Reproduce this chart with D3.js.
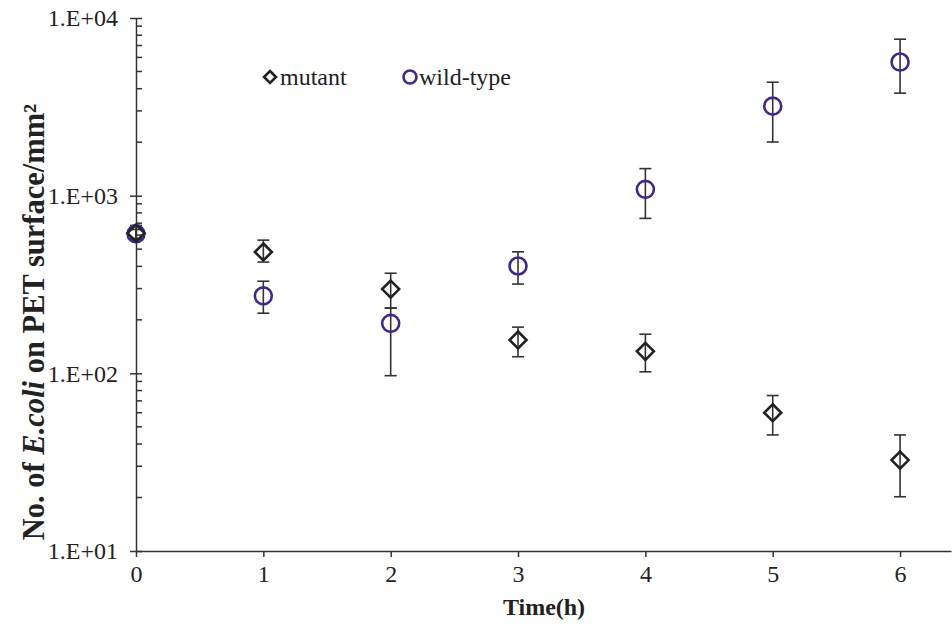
<!DOCTYPE html>
<html><head><meta charset="utf-8">
<script src="https://cdn.jsdelivr.net/npm/d3@7"></script>
<style>html,body{margin:0;padding:0;background:#fff;}svg{display:block;}</style>
</head><body>
<svg id="chart" width="952" height="628"></svg>
<script>
const times = [0, 1, 2, 3, 4, 5, 6];
const mutant = [615, 482, 298, 154, 133, 60, 32.5];
const mutantLow = [565, 423, 233, 124, 102, 45, 20.2];
const mutantHigh = [680, 562, 366, 182, 166, 75, 45];
const wild = [610, 273, 191, 402, 1085, 3190, 5650];
const wildLow = [575, 218, 97, 318, 745, 2005, 3775];
const wildHigh = [645, 330, 233, 483, 1420, 4350, 7600];
const xTicks = [0, 1, 2, 3, 4, 5, 6];
const yTicks = [10, 100, 1000, 10000];
const yTickLabels = ["1.E+01", "1.E+02", "1.E+03", "1.E+04"];
const seriesNames = ["mutant", "wild-type"];

const svg = d3.select("#chart");
const font = "'Liberation Serif','Times New Roman',serif";
const x = d3.scaleLinear().domain([0, 6.4]).range([136, 951]);
const y = d3.scaleLog().domain([10, 10000]).range([551, 18]);
const axisColor = "#333";
const fs = 24;

// minor ticks on y
const minor = [];
for (let d = 10; d < 10000; d *= 10) for (let k = 2; k <= 9; k++) minor.push(d * k);
svg.append("g").selectAll("line").data(minor).join("line")
  .attr("x1", x(0)).attr("x2", x(0) + 6)
  .attr("y1", d => y(d)).attr("y2", d => y(d))
  .attr("stroke", axisColor).attr("stroke-width", 1.5);

// y axis
const yAxis = svg.append("g").attr("transform", `translate(${x(0)},0)`)
  .call(d3.axisLeft(y).tickValues(yTicks).tickFormat((d, i) => yTickLabels[i]).tickSize(6).tickSizeOuter(0).tickPadding(12));
yAxis.select(".domain").attr("stroke", axisColor).attr("stroke-width", 1.5);
yAxis.selectAll(".tick line").attr("stroke", axisColor).attr("stroke-width", 1.5).attr("x2", -6).attr("x1", 6);
yAxis.selectAll("text").attr("font-family", font).attr("font-size", fs).attr("fill", "#222");

// x axis
const xAxis = svg.append("g").attr("transform", `translate(0,${y(10)})`)
  .call(d3.axisBottom(x).tickValues(xTicks).tickFormat(d3.format("d")).tickSize(6).tickSizeOuter(0).tickPadding(8));
xAxis.select(".domain").attr("stroke", axisColor).attr("stroke-width", 1.5);
xAxis.selectAll(".tick line").attr("stroke", axisColor).attr("stroke-width", 1.5);
xAxis.selectAll("text").attr("font-family", font).attr("font-size", fs).attr("fill", "#222");

// axis titles
svg.append("text").attr("x", 544).attr("y", 615)
  .attr("text-anchor", "middle").attr("font-family", font).attr("font-size", fs)
  .attr("font-weight", "bold").attr("fill", "#222").text("Time(h)");
const yt = svg.append("text").attr("transform", "translate(44,322) rotate(-90)")
  .attr("text-anchor", "middle").attr("font-family", font).attr("font-size", 30.5)
  .attr("font-weight", "bold").attr("fill", "#222");
yt.append("tspan").text("No. of ");
yt.append("tspan").attr("font-style", "italic").text("E.coli");
yt.append("tspan").text(" on PET surface/mm²");

// error bars
function errorBars(lo, hi) {
  const g = svg.append("g").attr("stroke", "#333").attr("stroke-width", 1.6);
  times.forEach((t, i) => {
    const cx = x(t);
    g.append("line").attr("x1", cx).attr("x2", cx).attr("y1", y(lo[i])).attr("y2", y(hi[i]));
    g.append("line").attr("x1", cx - 6).attr("x2", cx + 6).attr("y1", y(lo[i])).attr("y2", y(lo[i]));
    g.append("line").attr("x1", cx - 6).attr("x2", cx + 6).attr("y1", y(hi[i])).attr("y2", y(hi[i]));
  });
}
errorBars(mutantLow, mutantHigh);
errorBars(wildLow, wildHigh);

const purple = "#40288f";
const diamond = "M0,-8.5L8.5,0L0,8.5L-8.5,0Z";

// wild-type circles
svg.append("g").selectAll("circle").data(wild).join("circle")
  .attr("cx", (d, i) => x(times[i])).attr("cy", d => y(d)).attr("r", 8.5)
  .attr("fill", "none").attr("stroke", purple).attr("stroke-width", 2.6);
// mutant diamonds
svg.append("g").selectAll("path").data(mutant).join("path")
  .attr("transform", (d, i) => `translate(${x(times[i])},${y(d)})`)
  .attr("d", diamond).attr("fill", "none").attr("stroke", "#222").attr("stroke-width", 2.6);

// legend
const lg = svg.append("g");
lg.append("path").attr("transform", "translate(270,77)").attr("d", "M0,-6L6,0L0,6L-6,0Z")
  .attr("fill", "none").attr("stroke", "#222").attr("stroke-width", 2.6);
lg.append("text").attr("x", 280).attr("y", 85).attr("font-family", font).attr("font-size", fs)
  .attr("fill", "#222").text(seriesNames[0]);
lg.append("circle").attr("cx", 410).attr("cy", 77).attr("r", 6.5)
  .attr("fill", "none").attr("stroke", purple).attr("stroke-width", 2.6);
lg.append("text").attr("x", 419).attr("y", 85).attr("font-family", font).attr("font-size", fs)
  .attr("fill", "#222").text(seriesNames[1]);
</script>
</body></html>
